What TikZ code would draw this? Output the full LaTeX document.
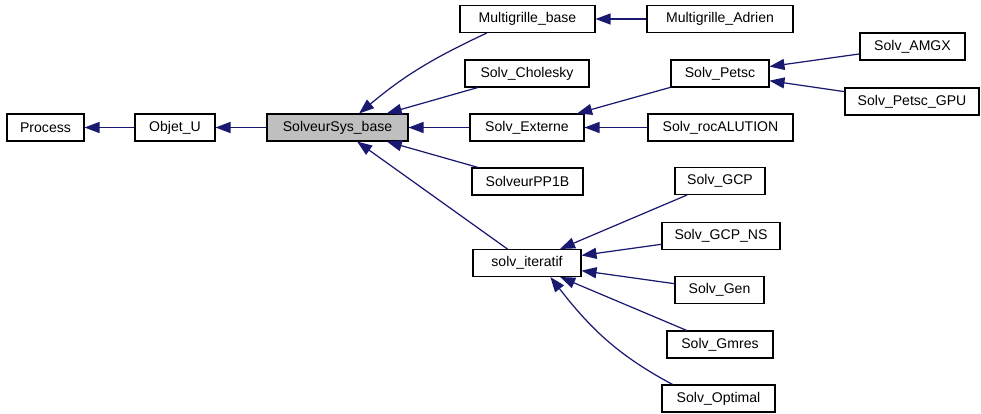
\documentclass[tikz,border=0pt]{standalone}
\usepackage{fontspec}
\setmainfont{Liberation Sans}
\usetikzlibrary{arrows.meta}

\definecolor{edgeblue}{RGB}{25,25,112}
\definecolor{basegray}{RGB}{191,191,191}

\begin{document}
\begin{tikzpicture}[
    x=0.02cm, y=0.02cm,
    box/.style={draw, line width=0.6pt, minimum width=#1, minimum height=0.54cm,
                inner sep=0pt, font=\fontsize{8}{9.6}\selectfont},
    arr/.style={-{Triangle[length=0.3cm, width=0.22cm]}, draw=edgeblue, line width=0.7pt}
  ]
  \useasboundingbox (0,0) rectangle (981,-413);

  % Base chain
  \node[box=1.54cm] (process) at (45.5,-127.5) {Process};
  \node[box=1.6cm] (objet) at (175,-127.5) {Objet\_U};
  \node[box=2.82cm, fill=basegray] (solveur) at (337.5,-127.5) {SolveurSys\_base};

  % Direct children
  \node[box=2.7cm] (mgbase) at (527.5,-19) {Multigrille\_base};
  \node[box=2.48cm] (cholesky) at (527,-73.5) {Solv\_Cholesky};
  \node[box=2.28cm] (externe) at (527,-127.5) {Solv\_Externe};
  \node[box=2.22cm] (pp1b) at (527.5,-181.5) {SolveurPP1B};
  \node[box=2.16cm] (iteratif) at (527,-263) {solv\_iteratif};

  % Third level
  \node[box=2.92cm] (adrien) at (720,-19) {Multigrille\_Adrien};
  \node[box=1.96cm] (petsc) at (720,-73.5) {Solv\_Petsc};
  \node[box=2.9cm] (rocalution) at (720.5,-127.5) {Solv\_rocALUTION};
  \node[box=1.8cm] (gcp) at (720,-181) {Solv\_GCP};
  \node[box=2.36cm] (gcpns) at (721,-236) {Solv\_GCP\_NS};
  \node[box=1.78cm] (gen) at (719.5,-290) {Solv\_Gen};
  \node[box=2.12cm] (gmres) at (720,-344.5) {Solv\_Gmres};
  \node[box=2.26cm] (optimal) at (718.5,-398.5) {Solv\_Optimal};

  % Petsc children
  \node[box=2.1cm] (amgx) at (912.5,-46.5) {Solv\_AMGX};
  \node[box=2.68cm] (petscgpu) at (912,-101.5) {Solv\_Petsc\_GPU};

  % Arrows
  \draw[arr] (objet) -- (process);
  \draw[arr] (solveur) -- (objet);
  \draw[arr] (mgbase.199) to[out=205, in=40] (solveur.33);
  \draw[arr] (cholesky) -- (solveur);
  \draw[arr] (externe) -- (solveur);
  \draw[arr] (pp1b) -- (solveur);
  \draw[arr] (iteratif) -- (solveur);
  \draw[arr] (adrien) -- (mgbase);
  \draw[arr] (petsc) -- (externe);
  \draw[arr] (rocalution) -- (externe);
  \draw[arr] (amgx) -- (petsc);
  \draw[arr] (petscgpu) -- (petsc);
  \draw[arr] (gcp) -- (iteratif);
  \draw[arr] (gcpns) -- (iteratif);
  \draw[arr] (gen) -- (iteratif);
  \draw[arr] (gmres) -- (iteratif);
  \draw[arr] (optimal.163) to[out=152, in=-52] (iteratif.-31);

\end{tikzpicture}
\end{document}
